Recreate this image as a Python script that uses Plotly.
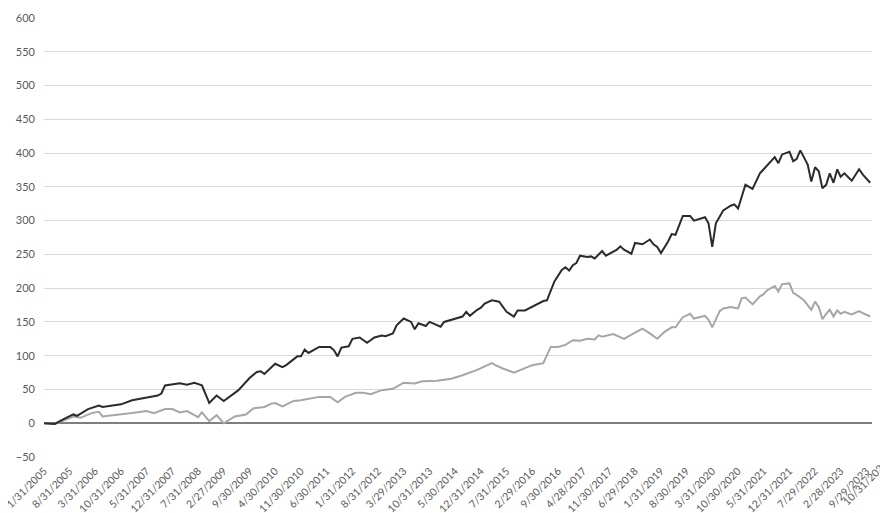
import pandas as pd
import plotly.graph_objects as go

# Dark series: month (YYYY-MM) and value
dark_months = ["2005-01","2005-04","2005-06","2005-09","2005-10","2006-01","2006-04","2006-05","2006-10","2007-01",
               "2007-08","2007-09","2007-10","2008-02","2008-04","2008-06","2008-08","2008-09","2008-10","2008-12",
               "2009-02","2009-05","2009-06","2009-09","2009-11","2009-12","2010-01","2010-04","2010-06","2010-07",
               "2010-10","2010-11","2010-12","2011-01","2011-04","2011-07","2011-08","2011-09","2011-10","2011-12",
               "2012-01","2012-03","2012-05","2012-07","2012-09","2012-10","2012-12","2013-01","2013-03","2013-05",
               "2013-06","2013-07","2013-09","2013-10","2014-01","2014-02","2014-05","2014-07","2014-08","2014-09",
               "2014-11","2014-12","2015-01","2015-03","2015-05","2015-06","2015-07","2015-09","2015-10","2015-12",
               "2016-01","2016-05","2016-06","2016-08","2016-10","2016-11","2016-12","2017-01","2017-02","2017-03",
               "2017-05","2017-06","2017-07","2017-08","2017-09","2017-10","2017-12","2018-01","2018-02","2018-03",
               "2018-05","2018-06","2018-08","2018-10","2018-11","2018-12","2019-01","2019-03","2019-04","2019-05",
               "2019-07","2019-09","2019-10","2020-01","2020-02","2020-03","2020-04","2020-06","2020-08","2020-09",
               "2020-10","2020-12","2021-02","2021-04","2021-05","2021-07","2021-08","2021-09","2021-10","2021-12",
               "2022-01","2022-02","2022-03","2022-05","2022-06","2022-07","2022-08","2022-09","2022-10","2022-11",
               "2022-12","2023-01","2023-02","2023-03","2023-05","2023-07","2023-08","2023-10"]
dark_values = [0,-1,5,13,11,21,26,24,28,34,
               41,44,56,59,57,60,56,44,30,41,
               33,45,49,67,76,77,73,88,83,86,
               99,99,109,104,113,113,108,99,112,114,
               125,127,119,127,130,129,133,145,155,150,
               139,148,144,150,143,150,155,158,165,159,
               168,171,177,182,180,172,165,158,167,167,
               170,181,182,210,227,231,226,234,237,248,
               246,247,244,249,255,248,254,257,262,257,
               251,267,265,272,265,261,252,269,280,279,
               307,307,300,305,296,261,296,315,322,
               324,318,353,347,370,376,388,394,385,398,
               402,388,391,404,383,358,379,373,348,353,
               370,356,376,365,370,359,376,368,356]

# Gray series: month (YYYY-MM) and value
gray_months = ["2005-01","2005-04","2005-09","2005-11","2006-02","2006-04","2006-05","2006-09","2007-01","2007-05",
               "2007-07","2007-10","2007-12","2008-02","2008-04","2008-06","2008-07","2008-08","2008-10","2008-12",
               "2009-02","2009-05","2009-08","2009-10","2010-01","2010-03","2010-04","2010-06","2010-09","2010-11",
               "2011-01","2011-04","2011-07","2011-09","2011-11","2012-02","2012-04","2012-06","2012-09","2012-12",
               "2013-03","2013-06","2013-08","2013-12","2014-04","2014-07","2014-11","2015-01","2015-03","2015-04",
               "2015-06","2015-09","2015-12","2016-02","2016-05","2016-07","2016-09","2016-11","2017-01","2017-03",
               "2017-05","2017-07","2017-08","2017-09","2017-12","2018-03","2018-06","2018-08","2018-10","2018-12",
               "2019-02","2019-04","2019-05","2019-07","2019-09","2019-10","2020-01","2020-02","2020-03","2020-05",
               "2020-06","2020-08","2020-10","2020-11","2020-12","2021-02","2021-04","2021-05","2021-06","2021-08",
               "2021-09","2021-10","2021-12","2022-01","2022-02","2022-04","2022-06","2022-07","2022-08","2022-09",
               "2022-10","2022-11","2022-12","2023-01","2023-02","2023-03","2023-05","2023-07","2023-08","2023-10"]
gray_values = [0,-1,10,8,15,17,10,12,15,18,
               15,21,21,16,18,12,9,16,3,12,
               0,10,13,22,24,29,30,25,33,34,
               36,39,39,31,39,45,45,43,49,51,
               60,59,62,63,66,71,79,84,89,86,
               81,75,81,86,89,113,113,116,123,122,
               125,124,130,128,132,125,134,140,133,125,
               135,142,142,157,162,155,159,153,142,166,
               170,172,170,185,186,176,188,191,197,203,
               195,206,207,193,190,182,168,180,172,154,
               162,168,158,167,162,165,161,166,163,158]

tick_labels = ["1/31/2005","8/31/2005","3/31/2006","10/31/2006","5/31/2007","12/31/2007","7/31/2008",
               "2/27/2009","9/30/2009","4/30/2010","11/30/2010","6/30/2011","1/31/2012","8/31/2012",
               "3/29/2013","10/31/2013","5/30/2014","12/31/2014","7/31/2015","2/29/2016","9/30/2016",
               "4/28/2017","11/30/2017","6/29/2018","1/31/2019","8/30/2019","3/31/2020","10/30/2020",
               "5/31/2021","12/31/2021","7/29/2022","2/28/2023","9/29/2023","10/31/2023"]

def month_end(ms):
    return pd.to_datetime(ms, format="%Y-%m") + pd.offsets.MonthEnd(0)

dark_x = month_end(dark_months)
gray_x = month_end(gray_months)
tick_dates = pd.to_datetime(tick_labels, format="%m/%d/%Y")

fig = go.Figure()
fig.add_trace(go.Scatter(x=gray_x, y=gray_values, mode="lines",
                         line=dict(color="#a6a6a6", width=2), showlegend=False))
fig.add_trace(go.Scatter(x=dark_x, y=dark_values, mode="lines",
                         line=dict(color="#2b2b2b", width=2), showlegend=False))

font = dict(family="Lato, Open Sans, sans-serif", size=11, color="#595959")
xfont = dict(family="Lato, Open Sans, sans-serif", size=10.5, color="#595959")

# The page body adds an 8px offset; margins compensate for it.
fig.update_layout(
    width=888, height=513,
    margin=dict(l=36, r=24, t=10, b=64, autoexpand=False),
    paper_bgcolor="white", plot_bgcolor="white",
    font=font,
    xaxis=dict(type="date", range=[tick_dates[0] - pd.Timedelta(hours=12), pd.Timestamp("2023-11-15")],
               tickvals=list(tick_dates[:-1]), ticktext=tick_labels[:-1],
               tickangle=-45, showgrid=False, zeroline=False, showline=False,
               ticks="", tickfont=xfont, automargin=False, ticklabelstandoff=5,
               ticklabeloverflow="allow"),
    yaxis=dict(range=[-50, 600], dtick=50, tick0=0, showgrid=True, gridcolor="#d9d9d9",
               gridwidth=1, zeroline=True, zerolinecolor="#7f7f7f", zerolinewidth=1.5,
               showline=False, ticks="", tickfont=font, ticklabelstandoff=8, automargin=False),
)

fig.add_annotation(x=tick_dates[-1], xref="x", y=0, yref="paper", text=tick_labels[-1],
                   textangle=-45, xanchor="right", yanchor="top", showarrow=False,
                   xshift=22, yshift=2, font=xfont)

fig.write_html("out.html")
